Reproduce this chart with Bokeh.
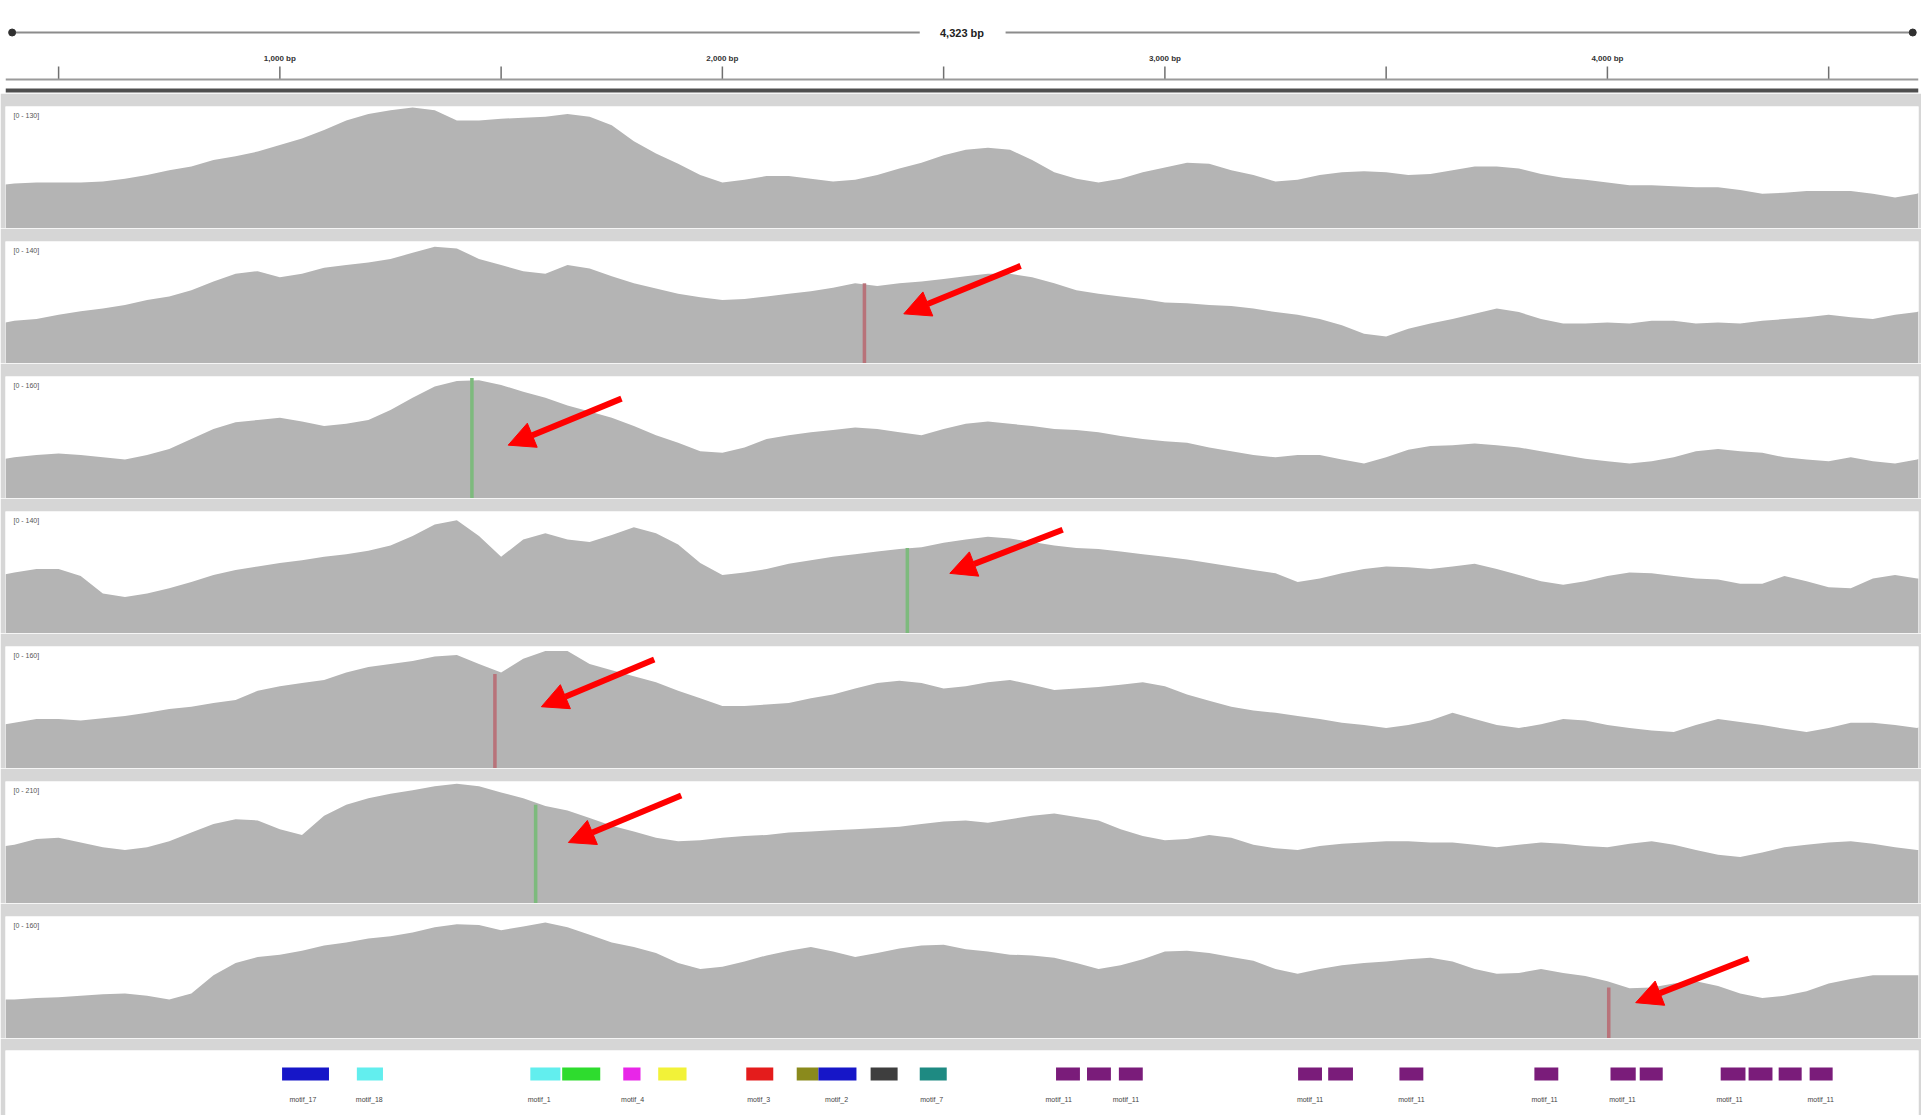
from bokeh.plotting import figure
from bokeh.layouts import column
from bokeh.models import Range1d, Label, Arrow, NormalHead
from bokeh.core.properties import value
from bokeh.embed import file_html
from bokeh.resources import INLINE

# ---------------- data ----------------
view_start = 380
view_end = 4703
span_label = "4,323 bp"

ruler_ticks = [500, 1000, 1500, 2000, 2500, 3000, 3500, 4000, 4500]
ruler_label_pos = [1000, 2000, 3000, 4000]
ruler_label_text = ["1,000 bp", "2,000 bp", "3,000 bp", "4,000 bp"]

positions = [380] + list(range(400, 4701, 50)) + [4703]

track_max = [130, 140, 160, 140, 160, 210, 160]

cov1 = [47, 48, 49, 49, 49, 50, 53, 57, 62, 66, 73, 77, 82, 89, 96, 105, 115, 122, 126, 129, 126,
        115, 115, 117, 118, 119, 122, 119, 110, 93, 80, 69, 57, 49, 52, 56, 56, 53, 50, 52, 57,
        64, 70, 78, 84, 86, 84, 73, 60, 53, 49, 53, 60, 65, 70, 69, 62, 57, 50, 52, 57,
        60, 61, 60, 57, 58, 62, 66, 66, 64, 58, 54, 52, 49, 46, 46, 45, 44, 44, 41, 37,
        38, 40, 40, 40, 37, 33, 37, 38]
cov2 = [47, 49, 51, 56, 60, 63, 67, 73, 77, 84, 94, 103, 106, 99, 103, 110, 113, 116, 120, 127, 134,
        132, 120, 113, 106, 103, 113, 109, 100, 92, 86, 80, 76, 73, 74, 77, 80, 83, 87, 92, 89,
        92, 94, 97, 100, 103, 103, 99, 92, 84, 80, 77, 74, 70, 69, 67, 66, 63, 59, 56, 51,
        44, 34, 31, 40, 46, 51, 57, 63, 59, 51, 46, 46, 47, 46, 49, 49, 46, 47, 46, 49,
        51, 53, 56, 53, 51, 56, 59, 60]
cov3 = [52, 54, 57, 59, 57, 54, 51, 57, 65, 78, 91, 100, 103, 106, 101, 95, 98, 103, 116, 132, 147,
        154, 155, 149, 140, 132, 122, 114, 106, 95, 83, 73, 62, 60, 67, 78, 83, 87, 90, 93, 91,
        87, 83, 91, 98, 101, 98, 95, 91, 90, 87, 82, 78, 75, 73, 67, 62, 57, 54, 57, 57,
        51, 46, 54, 64, 69, 70, 72, 70, 67, 62, 57, 52, 49, 46, 49, 54, 62, 65, 62, 60,
        54, 51, 49, 54, 49, 46, 51, 52]
cov4 = [68, 70, 74, 74, 66, 46, 42, 46, 52, 59, 67, 73, 77, 81, 84, 88, 91, 95, 101, 112, 125,
        130, 112, 88, 108, 115, 108, 105, 113, 122, 115, 102, 81, 67, 70, 74, 80, 84, 88, 91, 94,
        97, 99, 104, 108, 111, 109, 105, 101, 98, 97, 94, 91, 88, 85, 81, 77, 73, 69, 59, 63,
        69, 74, 77, 76, 74, 77, 80, 74, 67, 60, 56, 60, 66, 70, 69, 66, 63, 62, 57, 57,
        66, 60, 53, 52, 63, 67, 63, 63]
cov5 = [58, 60, 65, 65, 63, 66, 69, 73, 78, 81, 86, 90, 102, 108, 112, 116, 126, 133, 137, 141, 147,
        149, 137, 126, 144, 154, 154, 137, 129, 121, 113, 102, 92, 82, 82, 84, 86, 92, 97, 105, 112,
        115, 112, 105, 108, 113, 116, 110, 103, 105, 107, 110, 113, 108, 97, 89, 81, 76, 73, 69, 65,
        60, 57, 53, 57, 63, 73, 65, 57, 53, 58, 65, 63, 57, 53, 50, 48, 57, 65, 61, 57,
        52, 48, 53, 60, 60, 57, 53, 54]
cov6 = [99, 101, 111, 113, 105, 97, 92, 97, 107, 122, 137, 145, 143, 128, 118, 151, 170, 181, 189, 195, 202,
        206, 202, 191, 181, 168, 160, 147, 134, 124, 113, 107, 109, 113, 116, 118, 122, 124, 126, 128, 130,
        132, 137, 141, 143, 139, 145, 151, 155, 149, 143, 128, 116, 109, 111, 118, 113, 101, 95, 92, 99,
        103, 105, 107, 107, 105, 105, 101, 97, 101, 105, 103, 99, 97, 103, 107, 101, 92, 84, 80, 88,
        97, 101, 105, 107, 103, 97, 92, 92]
cov7 = [51, 51, 53, 54, 56, 58, 59, 56, 51, 59, 83, 99, 107, 110, 115, 122, 126, 131, 134, 139, 146,
        150, 149, 142, 147, 152, 146, 136, 126, 120, 112, 99, 91, 94, 101, 109, 115, 120, 114, 107, 112,
        118, 122, 123, 117, 114, 110, 109, 106, 99, 91, 96, 104, 114, 115, 112, 107, 102, 91, 85, 91,
        96, 99, 101, 104, 106, 101, 91, 85, 86, 91, 86, 82, 75, 66, 67, 72, 75, 69, 59, 53,
        56, 62, 72, 78, 83, 83, 83, 83]
coverage = [cov1, cov2, cov3, cov4, cov5, cov6, cov7]

# mismatch (SNV) bars: track index, position, depth, colour
mm_track = [1, 2, 3, 4, 5, 6]
mm_pos = [2321, 1434, 2418, 1486, 1578, 4003]
mm_depth = [92, 158, 98, 124, 170, 67]
mm_color = ["#b8737a", "#7dba7d", "#7dba7d", "#b8737a", "#7dba7d", "#b8737a"]

# red annotation arrows (track index, start -> end in bp / depth)
arrow_track = [1, 2, 3, 4, 5, 6]
arrow_x0 = [2674, 1772, 2769, 1846, 1907, 4319]
arrow_y0 = [112, 131, 119, 143, 186, 105]
arrow_x1 = [2410, 1516, 2514, 1591, 1652, 4064]
arrow_y1 = [57, 70, 69, 81, 105, 47]

# motif features
feat_start = [1005, 1174, 1566, 1638, 1776, 1855, 2054, 2168, 2217, 2335, 2446,
              2754, 2824, 2896, 3301, 3369, 3530, 3835, 4007, 4073, 4256, 4319, 4387, 4457]
feat_end = [1111, 1233, 1634, 1724, 1815, 1919, 2115, 2217, 2303, 2396, 2507,
            2808, 2878, 2950, 3355, 3425, 3584, 3889, 4064, 4125, 4312, 4373, 4439, 4509]
feat_color = ["#1616c8", "#62eeee", "#62eeee", "#2edc2e", "#e826e8", "#f2f238", "#e41c1c",
              "#8a8a1c", "#1616c8", "#3e3e3e", "#1e8a82"] + ["#7a1c7a"] * 13
feat_label_pos = [1052, 1202, 1586, 1797, 2082, 2258, 2473,
                  2760, 2912, 3328, 3557, 3858, 4034, 4276, 4482]
feat_label_text = ["motif_17", "motif_18", "motif_1", "motif_4", "motif_3", "motif_2", "motif_7",
                   "motif_11", "motif_11", "motif_11", "motif_11", "motif_11", "motif_11",
                   "motif_11", "motif_11"]

# ---------------- drawing ----------------
FONT = value("Liberation Sans")
W = 1921
GAP = "#d6d6d6"
xr = Range1d(view_start, view_end)


def base_fig(height, y_range, top_border, border_color):
    f = figure(width=W, height=height, x_range=xr, y_range=y_range,
               toolbar_location=None, output_backend="svg",
               x_axis_location=None, y_axis_location=None,
               min_border_left=5, min_border_right=3,
               min_border_top=top_border, min_border_bottom=0,
               border_fill_color=border_color, background_fill_color="white")
    f.grid.visible = False
    f.outline_line_color = None
    return f


# ruler
r = base_fig(93, Range1d(93, 0), 0, "white")
r.segment(x0=[395, 2640], y0=[32, 32], x1=[2446, 4690], y1=[32, 32],
          line_color="#8c8c8c", line_width=2)
r.scatter([395, 4690], [32, 32], size=7, color="#303030")
r.text(x=[(view_start + view_end) / 2], y=[32], text=[span_label],
       text_align="center", text_baseline="middle", text_font=FONT,
       text_font_size="11px", text_font_style="bold", text_color="#222222")
r.segment(x0=ruler_ticks, y0=[66] * len(ruler_ticks), x1=ruler_ticks, y1=[79] * len(ruler_ticks),
          line_color="#707070", line_width=1.5)
r.text(x=ruler_label_pos, y=[58] * 4, text=ruler_label_text, text_align="center",
       text_baseline="middle", text_font=FONT, text_font_size="8px",
       text_font_style="bold", text_color="#333333")
r.segment(x0=[view_start], y0=[79], x1=[view_end], y1=[79], line_color="#9a9a9a", line_width=2)
r.segment(x0=[view_start], y0=[90], x1=[view_end], y1=[90], line_color="#4e4e4e", line_width=4)

figs = [r]
for k in range(7):
    f = base_fig(135, Range1d(0, track_max[k]), 13, GAP)
    f.varea(x=positions, y1=[0] * len(positions), y2=coverage[k], fill_color="#b4b4b4")
    for j, t in enumerate(mm_track):
        if t == k:
            f.vbar(x=[mm_pos[j]], width=8, bottom=0, top=[mm_depth[j]],
                   fill_color=mm_color[j], line_color=None)
    for j, t in enumerate(arrow_track):
        if t == k:
            f.add_layout(Arrow(end=NormalHead(size=26, fill_color="#ff0000", line_color="#ff0000"),
                               x_start=arrow_x0[j], y_start=arrow_y0[j],
                               x_end=arrow_x1[j], y_end=arrow_y1[j],
                               line_color="#ff0000", line_width=6))
    f.add_layout(Label(x=8, y=117, x_units="screen", y_units="screen",
                       text="[0 - %d]" % track_max[k], text_baseline="top",
                       text_font="Liberation Sans", text_font_size="7px", text_color="#555555"))
    figs.append(f)

# feature track
ft = base_fig(77, Range1d(65, 0), 12, GAP)
ft.quad(left=feat_start, right=feat_end, top=[17] * len(feat_start), bottom=[30] * len(feat_start),
        fill_color=feat_color, line_color=None)
ft.text(x=feat_label_pos, y=[49] * len(feat_label_pos), text=feat_label_text,
        text_align="center", text_baseline="middle", text_font=FONT,
        text_font_size="7px", text_color="#444444")
figs.append(ft)

layout = column(*figs, spacing=0)
open("out.html", "w").write(file_html(layout, INLINE))
